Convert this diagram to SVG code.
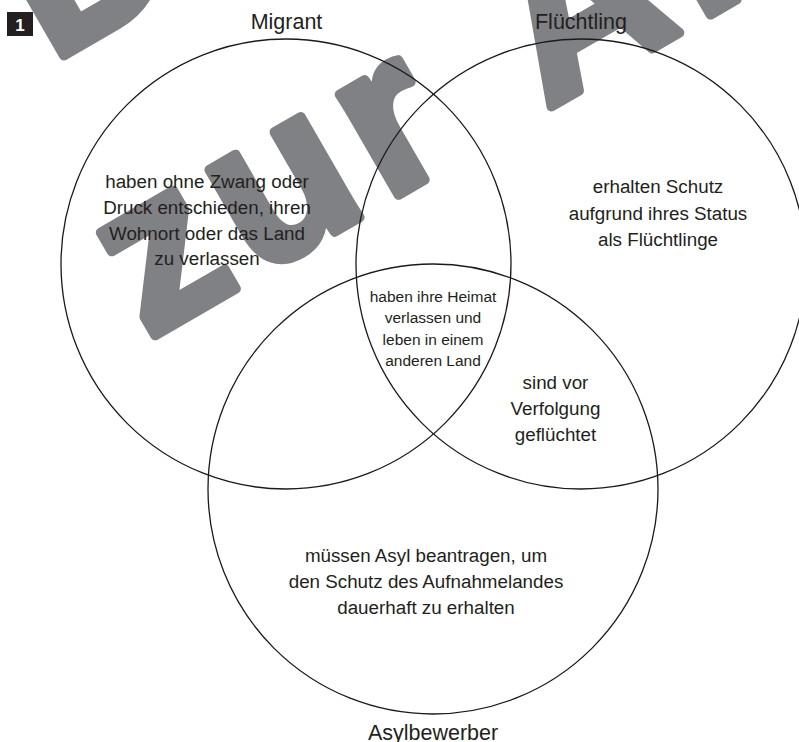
<svg xmlns="http://www.w3.org/2000/svg" width="799" height="742" viewBox="0 0 799 742">
<style>
.t{font-family:"Liberation Sans",Arial,sans-serif;fill:#231f20;text-anchor:middle}
.lbl{font-size:21.5px}
.body{font-size:18.8px}
.small{font-size:15.5px}
.c{fill:none;stroke:#1a1a1a;stroke-width:1.3}
.wm{font-family:"Liberation Sans",Arial,sans-serif;font-weight:bold;font-size:220px;fill:#808185;stroke:#808185;stroke-width:10;stroke-linejoin:round}
</style>
<rect width="799" height="742" fill="#ffffff"/>
<g id="watermark" transform="translate(145.7,346.5) rotate(-30)">
<text class="wm" x="60" y="-293">Dokument</text>
<text class="wm" x="5" y="-5" letter-spacing="15">zur<tspan x="466">Ansicht</tspan></text>
</g>
<g id="badge">
<rect x="7" y="12" width="26" height="24" fill="#231f20"/>
<text x="20" y="31" style="font-family:'Liberation Sans',Arial,sans-serif;font-weight:bold;font-size:17px;fill:#ffffff;text-anchor:middle">1</text>
</g>
<g id="connectors"/>
<g id="migrant">
<circle class="c" cx="286" cy="264" r="225"/>
<text class="t lbl" x="286.5" y="29">Migrant</text>
<text class="t body" x="207" y="188">haben ohne Zwang oder</text>
<text class="t body" x="207" y="214">Druck entschieden, ihren</text>
<text class="t body" x="207" y="240">Wohnort oder das Land</text>
<text class="t body" x="207" y="265">zu verlassen</text>
</g>
<g id="fluechtling">
<circle class="c" cx="581" cy="264" r="225"/>
<text class="t lbl" x="581" y="29">Flüchtling</text>
<text class="t body" x="658" y="193">erhalten Schutz</text>
<text class="t body" x="658" y="219.5">aufgrund ihres Status</text>
<text class="t body" x="658" y="246">als Flüchtlinge</text>
</g>
<g id="asylbewerber">
<circle class="c" cx="433" cy="489" r="225"/>
<text class="t lbl" x="433" y="740">Asylbewerber</text>
<text class="t body" x="426" y="562">müssen Asyl beantragen, um</text>
<text class="t body" x="426" y="588">den Schutz des Aufnahmelandes</text>
<text class="t body" x="426" y="614">dauerhaft zu erhalten</text>
</g>
<g id="center">
<text class="t small" x="433" y="301.5">haben ihre Heimat</text>
<text class="t small" x="433" y="323">verlassen und</text>
<text class="t small" x="433" y="344.5">leben in einem</text>
<text class="t small" x="433" y="366">anderen Land</text>
</g>
<g id="fluechtling-asyl">
<text class="t body" x="555.5" y="389">sind vor</text>
<text class="t body" x="555.5" y="415">Verfolgung</text>
<text class="t body" x="555.5" y="441">geflüchtet</text>
</g>
</svg>
